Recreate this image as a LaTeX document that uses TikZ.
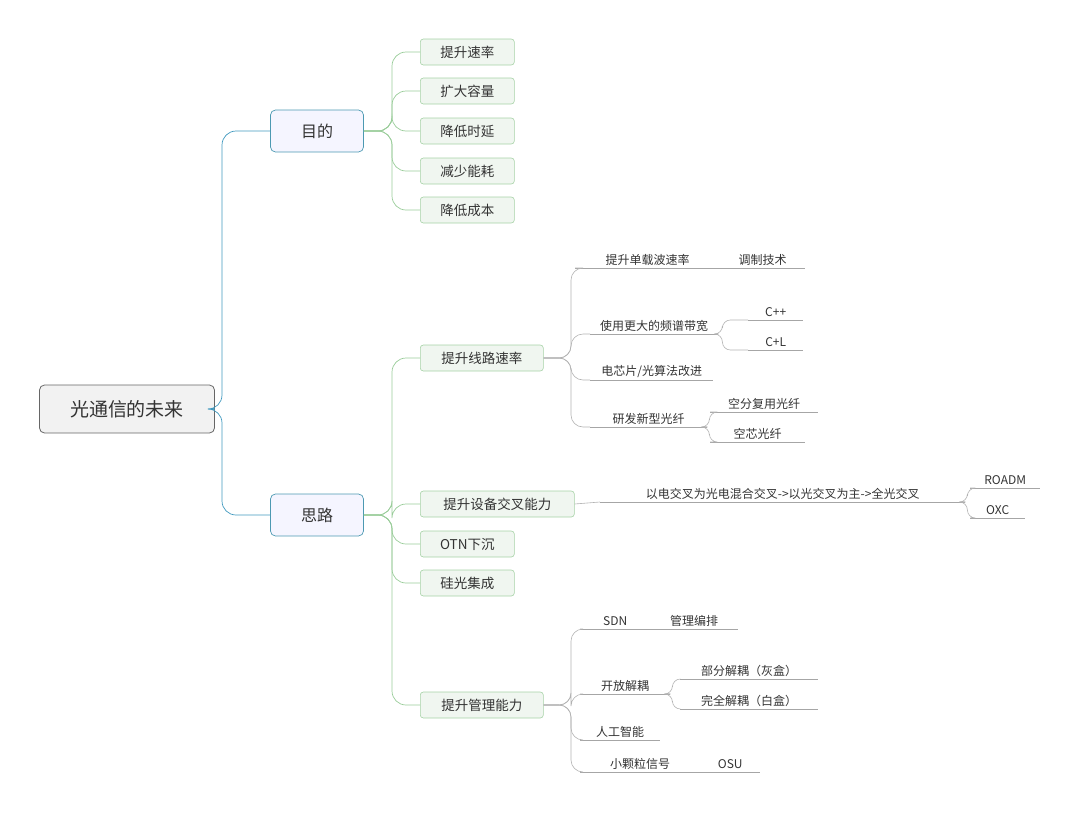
\documentclass[tikz,border=0pt]{standalone}
\usepackage{fontspec}
\newfontfamily\cjk{Noto Sans CJK SC}
\begin{document}
\begin{tikzpicture}[x=1pt,y=-1pt,
 root/.style={draw=gray!80!black,fill=black!5,rounded corners=5pt,line width=0.8pt,minimum width=175pt,minimum height=48pt,font=\cjk\fontsize{19}{22}\selectfont,text=black!80},
 mid/.style={draw=blue!25!cyan!40!gray,fill=blue!4,rounded corners=5pt,line width=0.7pt,minimum width=93pt,minimum height=42pt,font=\cjk\fontsize{16}{19}\selectfont,text=black!80},
 grn/.style={draw=green!50!black!35,fill=green!40!black!6,rounded corners=3pt,line width=0.6pt,minimum height=26pt,font=\cjk\fontsize{13.5}{16}\selectfont,text=black!80,anchor=west},
 leaf/.style={inner sep=1pt,anchor=south west,minimum height=16pt,font=\cjk\fontsize{12}{14}\selectfont,text=black!80},
 rl/.style={draw=blue!30!cyan!50!gray,line width=0.7pt,rounded corners=14pt},
 gl/.style={draw=green!50!black!40,line width=0.7pt,rounded corners=14pt},
 ul/.style={draw=black!35,line width=0.6pt},
 sl/.style={draw=black!30,line width=0.6pt,rounded corners=12pt}]
\useasboundingbox (0,0) rectangle (1080,817);
\node[root] (root) at (127,409) {光通信的未来};
\node[mid] (md) at (317,131) {目的};
\node[mid] (sl) at (317,515) {思路};
\draw[rl] (root.east) -- (222,409) |- (md.west);
\draw[rl] (root.east) -- (222,409) |- (sl.west);
% goals
\foreach \n/\t/\y in {g1/提升速率/52,g2/扩大容量/91,g3/降低时延/131,g4/减少能耗/171,g5/降低成本/210}{
 \node[grn,minimum width=94pt] (\n) at (420,\y) {\t};
 \draw[gl] (md.east) -- (392,131) |- (\n.west);}
% ideas
\node[grn,minimum width=123pt] (s1) at (420,358) {提升线路速率};
\node[grn,minimum width=154pt] (s2) at (420,504) {提升设备交叉能力};
\node[grn,minimum width=94pt] (s3) at (420,544) {OTN下沉};
\node[grn,minimum width=94pt] (s4) at (420,583) {硅光集成};
\node[grn,minimum width=123pt] (s5) at (420,705) {提升管理能力};
\foreach \n in {s1,s2,s3,s4,s5}{\draw[gl] (sl.east) -- (392,515) |- (\n.west);}
% s1 children
\node[leaf,minimum width=145pt] (a1) at (575,268) {提升单载波速率};
\node[leaf,minimum width=85pt] (a1a) at (720,268) {调制技术};
\node[leaf,minimum width=128pt] (a2) at (590,334) {使用更大的频谱带宽};
\node[leaf,minimum width=55pt] (a2a) at (748,320) {C++};
\node[leaf,minimum width=55pt] (a2b) at (748,350) {C+L};
\node[leaf,minimum width=123pt] (a3) at (590,380) {电芯片/光算法改进};
\node[leaf,minimum width=117pt] (a4) at (590,427) {研发新型光纤};
\node[leaf,minimum width=108pt] (a4a) at (710,412) {空分复用光纤};
\node[leaf,minimum width=95pt] (a4b) at (710,442) {空芯光纤};
\foreach \n in {a1,a2,a3,a4,a1a,a2a,a2b,a4a,a4b}{\draw[ul] (\n.south west) -- (\n.south east);}
\foreach \n in {a1,a2,a3,a4}{\draw[sl] (s1.east) -- (571,358) |- (\n.south west);}
\draw[sl,rounded corners=8pt] (a2.south east) -- ++(4,0) |- (a2a.south west);
\draw[sl,rounded corners=8pt] (a2.south east) -- ++(4,0) |- (a2b.south west);
\draw[sl,rounded corners=8pt] (a4.south east) -- ++(2,0) |- (a4a.south west);
\draw[sl,rounded corners=8pt] (a4.south east) -- ++(2,0) |- (a4b.south west);
% s2 children
\node[leaf,minimum width=365pt] (b1) at (600,502) {以电交叉为光电混合交叉->以光交叉为主->全光交叉};
\node[leaf,minimum width=70pt] (b1a) at (970,488) {ROADM};
\node[leaf,minimum width=55pt] (b1b) at (970,518) {OXC};
\foreach \n in {b1,b1a,b1b}{\draw[ul] (\n.south west) -- (\n.south east);}
\draw[sl] (s2.east) -- (b1.south west);
\draw[sl,rounded corners=8pt] (b1.south east) -- ++(2,0) |- (b1a.south west);
\draw[sl,rounded corners=8pt] (b1.south east) -- ++(2,0) |- (b1b.south west);
% s5 children
\node[leaf,minimum width=70pt] (c1) at (580,629) {SDN};
\node[leaf,minimum width=88pt] (c1a) at (650,629) {管理编排};
\node[leaf,minimum width=90pt] (c2) at (580,694) {开放解耦};
\node[leaf,minimum width=138pt] (c2a) at (680,679) {部分解耦（灰盒）};
\node[leaf,minimum width=138pt] (c2b) at (680,709) {完全解耦（白盒）};
\node[leaf,minimum width=80pt] (c3) at (580,740) {人工智能};
\node[leaf,minimum width=120pt] (c4) at (580,772) {小颗粒信号};
\node[leaf,minimum width=60pt] (c4a) at (700,772) {OSU};
\foreach \n in {c1,c1a,c2,c2a,c2b,c3,c4,c4a}{\draw[ul] (\n.south west) -- (\n.south east);}
\foreach \n in {c1,c2,c3,c4}{\draw[sl] (s5.east) -- (571,705) |- (\n.south west);}
\draw[sl,rounded corners=8pt] (c2.south east) -- ++(2,0) |- (c2a.south west);
\draw[sl,rounded corners=8pt] (c2.south east) -- ++(2,0) |- (c2b.south west);
\end{tikzpicture}
\end{document}
